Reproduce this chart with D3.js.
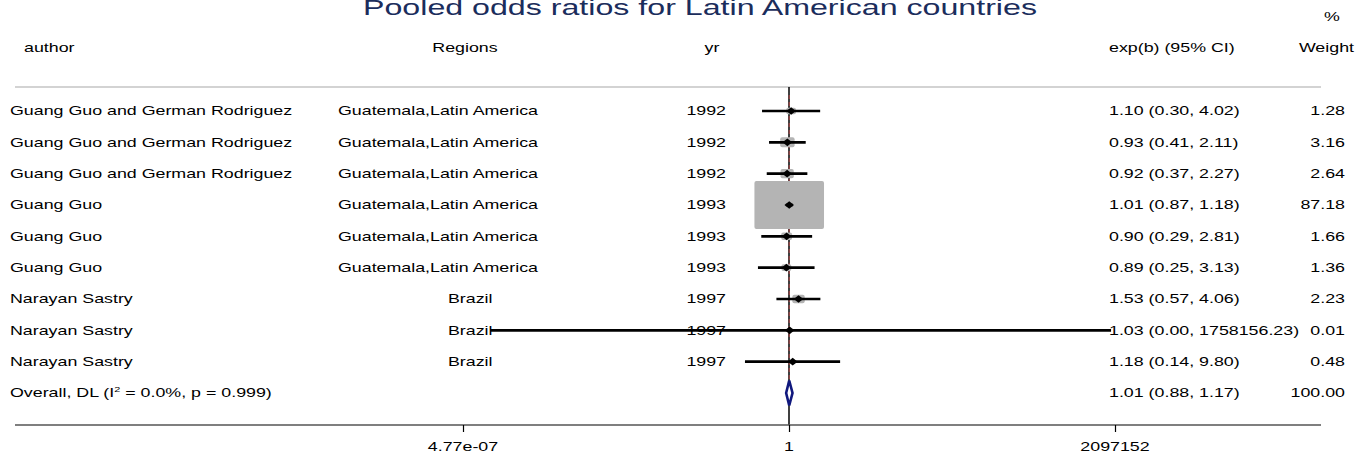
<!DOCTYPE html>
<html>
<head>
<meta charset="utf-8">
<script src="https://cdn.jsdelivr.net/npm/d3@7"></script>
<style>
  html, body { margin: 0; padding: 0; background: #fff; }
  svg { display: block; }
  text { font-family: "Liberation Sans", Arial, Helvetica, sans-serif; }
</style>
</head>
<body>
<svg id="chart" width="1355" height="454"></svg>
<script>
// ---------------- data ----------------
const authors = [
  "Guang Guo and German Rodriguez",
  "Guang Guo and German Rodriguez",
  "Guang Guo and German Rodriguez",
  "Guang Guo",
  "Guang Guo",
  "Guang Guo",
  "Narayan Sastry",
  "Narayan Sastry",
  "Narayan Sastry"
];
const regions = [
  "Guatemala,Latin America", "Guatemala,Latin America", "Guatemala,Latin America",
  "Guatemala,Latin America", "Guatemala,Latin America", "Guatemala,Latin America",
  "Brazil", "Brazil", "Brazil"
];
const years = [1992, 1992, 1992, 1993, 1993, 1993, 1997, 1997, 1997];
const es  = [1.10, 0.93, 0.92, 1.01, 0.90, 0.89, 1.53, 1.03, 1.18];
const lci = [0.30, 0.41, 0.37, 0.87, 0.29, 0.25, 0.57, 0.0000016, 0.14];
const uci = [4.02, 2.11, 2.27, 1.18, 2.81, 3.13, 4.06, 1758156.23, 9.80];
const weights = [1.28, 3.16, 2.64, 87.18, 1.66, 1.36, 2.23, 0.01, 0.48];

const overallLabel = "Overall, DL (I";
const overallLabelRest = " = 0.0%, p = 0.999)";
const overall = { es: 1.01, lci: 0.88, uci: 1.17, weight: 100.00 };

const tickValues = [Math.pow(2, -21), 1, Math.pow(2, 21)];
const tickLabels = ["4.77e-07", "1", "2097152"];

const headers = { author: "author", regions: "Regions", yr: "yr", es: "exp(b) (95% CI)", pct: "%", weight: "Weight" };
const title = "Pooled odds ratios for Latin American countries";

// ---------------- layout ----------------
const SX = 1.45;           // horizontal stretch of the original graph
const FS = 12.3;           // font size
const svg = d3.select("#chart");

const x = d3.scaleLog().base(2).domain([Math.pow(2, -21), Math.pow(2, 21)]).range([463, 1115]);
const nRows = authors.length + 1;
const y = d3.scaleLinear().domain([0, nRows - 1]).range([111, 393]);

function txt(g, px, py, str, anchor, size, fill) {
  const gg = g.append("g").attr("transform", `translate(${px},${py}) scale(${SX},1)`);
  const t = gg.append("text").attr("x", 0).attr("y", 0)
    .attr("text-anchor", anchor || "start")
    .attr("font-size", size || FS)
    .attr("fill", fill || "#000")
    .text(str);
  return t;
}

// title
txt(svg, 700, 15, title, "middle", 22.2, "#1b2d5c");

// headers
const hy = 52.4;
const esX = 1109;
const wX = 1345;
txt(svg, 24, hy, headers.author, "start");
txt(svg, 465, hy, headers.regions, "middle");
txt(svg, 712, hy, headers.yr, "middle");
txt(svg, esX, hy, headers.es, "start");
txt(svg, 1332, 21, headers.pct, "middle");
txt(svg, 1354, hy, headers.weight, "end");

// separator
svg.append("line").attr("x1", 15).attr("x2", 1321).attr("y1", 87).attr("y2", 87)
  .attr("stroke", "#c4c4c4").attr("stroke-width", 1.5);

// null line
svg.append("line").attr("x1", x(1)).attr("x2", x(1)).attr("y1", 87).attr("y2", 425)
  .attr("stroke", "#000").attr("stroke-width", 1.5);

// overall dashed line
svg.append("line").attr("x1", x(overall.es)).attr("x2", x(overall.es)).attr("y1", 95).attr("y2", 380)
  .attr("stroke", "#a04848").attr("stroke-width", 1.2).attr("stroke-dasharray", "4,3");

// study rows
const plot = svg.append("g");
const boxK = 47 / Math.sqrt(87.18);
authors.forEach((a, i) => {
  const cy = y(i);
  const base = cy + 4.4;
  txt(plot, 10, base, a, "start");
  // Stata-like column placement by character count
  txt(plot, 486.8 - regions[i].length * 6.47, base, regions[i], "start");
  txt(plot, 726, base, String(years[i]), "end");
  txt(plot, esX, base, `${es[i].toFixed(2)} (${lci[i].toFixed(2)}, ${uci[i].toFixed(2)})`, "start");
  txt(plot, wX, base, weights[i].toFixed(2), "end");

  // weight box
  const s = boxK * Math.sqrt(weights[i]) + 1;
  const w = s * SX;
  plot.append("rect")
    .attr("x", x(es[i]) - w / 2).attr("y", cy - s / 2)
    .attr("width", w).attr("height", s)
    .attr("rx", 2).attr("ry", 2)
    .attr("fill", "#b4b4b4");
  // CI line
  plot.append("line")
    .attr("x1", x(lci[i])).attr("x2", x(uci[i]))
    .attr("y1", cy).attr("y2", cy)
    .attr("stroke", "#000").attr("stroke-width", 2.6);
  // point marker
  const px = x(es[i]);
  plot.append("path")
    .attr("d", `M${px - 4.8},${cy} L${px},${cy - 3.8} L${px + 4.8},${cy} L${px},${cy + 3.8} Z`)
    .attr("fill", "#000");
});

// overall row
{
  const i = nRows - 1;
  const cy = y(i);
  const base = cy + 4.4;
  const t = txt(svg, 10, base, overallLabel, "start");
  t.append("tspan").attr("font-size", 7.5).attr("dy", -5).text("2");
  t.append("tspan").attr("dy", 5).text(overallLabelRest);
  txt(svg, esX, base, `${overall.es.toFixed(2)} (${overall.lci.toFixed(2)}, ${overall.uci.toFixed(2)})`, "start");
  txt(svg, wX, base, overall.weight.toFixed(2), "end");
  const xl = x(overall.lci), xr = x(overall.uci), xm = x(overall.es);
  svg.append("path")
    .attr("d", `M${xl},${cy} L${xm},${cy - 12.5} L${xr},${cy} L${xm},${cy + 12.5} Z`)
    .attr("fill", "#fff").attr("stroke", "#10187e").attr("stroke-width", 2.6)
    .attr("stroke-linejoin", "miter");
}

// axis
const axisY = 425;
svg.append("line").attr("x1", 15).attr("x2", 1321).attr("y1", axisY).attr("y2", axisY)
  .attr("stroke", "#555").attr("stroke-width", 1.6);
const axis = d3.axisBottom(x).tickValues(tickValues).tickSize(7).tickFormat((d, i) => tickLabels[i]);
const ag = svg.append("g").attr("transform", `translate(0,${axisY})`).call(axis);
ag.select(".domain").remove();
ag.selectAll(".tick line").attr("stroke", "#000").attr("stroke-width", 1.2);
ag.selectAll(".tick text").remove();
tickValues.forEach((v, i) => txt(svg, x(v), 450.5, tickLabels[i], "middle", FS));
</script>
</body>
</html>
